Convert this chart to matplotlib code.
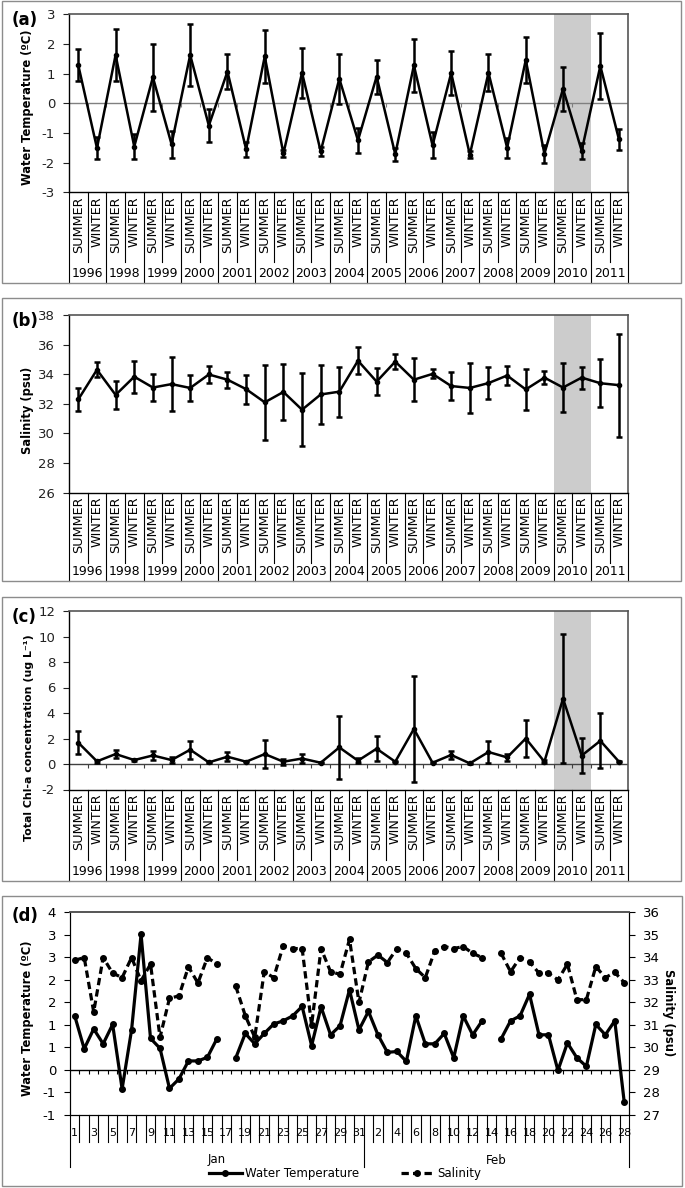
import math
import numpy as np
import matplotlib
matplotlib.use("Agg")
import matplotlib.pyplot as plt
from matplotlib.patches import Rectangle

# ---------------- data ----------------
years = [1996, 1998, 1999, 2000, 2001, 2002, 2003, 2004, 2005, 2006, 2007, 2008, 2009, 2010, 2011]
seasons = ["SUMMER", "WINTER"]
highlight_year = 2010

temp_mean = [1.28, -1.51, 1.63, -1.46, 0.88, -1.38, 1.63, -0.75, 1.07, -1.55,
             1.58, -1.69, 1.03, -1.62, 0.83, -1.25, 0.90, -1.72, 1.28, -1.42,
             1.02, -1.73, 1.03, -1.50, 1.46, -1.70, 0.49, -1.60, 1.26, -1.22]
temp_sd = [0.54, 0.36, 0.87, 0.43, 1.13, 0.46, 1.05, 0.56, 0.60, 0.25,
           0.89, 0.12, 0.85, 0.15, 0.84, 0.43, 0.57, 0.22, 0.90, 0.44,
           0.74, 0.13, 0.62, 0.33, 0.77, 0.30, 0.75, 0.27, 1.12, 0.35]

sal_mean = [32.30, 34.30, 32.60, 33.83, 33.10, 33.33, 33.07, 33.98, 33.63, 32.99,
            32.10, 32.80, 31.60, 32.63, 32.82, 34.91, 33.50, 34.85, 33.63, 34.02,
            33.20, 33.07, 33.40, 33.91, 32.97, 33.77, 33.10, 33.77, 33.39, 33.26]
sal_sd = [0.76, 0.52, 0.93, 1.08, 0.90, 1.85, 0.88, 0.58, 0.54, 0.98,
          2.52, 1.90, 2.45, 1.99, 1.69, 0.91, 0.92, 0.52, 1.44, 0.31,
          0.93, 1.69, 1.08, 0.64, 1.40, 0.45, 1.65, 0.75, 1.63, 3.48]

chl_mean = [1.67, 0.21, 0.78, 0.31, 0.67, 0.31, 1.12, 0.13, 0.57, 0.18,
            0.78, 0.18, 0.43, 0.10, 1.30, 0.26, 1.20, 0.18, 2.75, 0.10,
            0.71, 0.05, 0.94, 0.52, 2.00, 0.18, 5.13, 0.66, 1.82, 0.18]
chl_sd = [0.92, 0.10, 0.34, 0.05, 0.33, 0.20, 0.72, 0.05, 0.36, 0.05,
          1.07, 0.22, 0.33, 0.05, 2.50, 0.20, 1.00, 0.05, 4.15, 0.05,
          0.31, 0.03, 0.84, 0.30, 1.42, 0.10, 5.03, 1.37, 2.15, 0.05]

months = ["Jan", "Feb"]
month_days = [31, 28]
daily_temp = [1.20, 0.47, 0.91, 0.58, 1.01, -0.42, 0.89, 3.01, 0.70, 0.48,
              -0.41, -0.20, 0.20, 0.20, 0.28, 0.69, np.nan, 0.27, 0.81, 0.58,
              0.81, 1.02, 1.09, 1.20, 1.41, 0.54, 1.40, 0.78, 0.98, 1.78, 0.89,
              1.30, 0.78, 0.39, 0.41, 0.19, 1.20, 0.58, 0.58, 0.81, 0.27,
              1.20, 0.78, 1.09, np.nan, 0.69, 1.09, 1.20, 1.68, 0.78, 0.78,
              -0.01, 0.60, 0.27, 0.08, 1.01, 0.78, 1.09, -0.72]
daily_sal = [33.87, 33.99, 31.58, 33.99, 33.30, 33.10, 33.99, 32.96, 33.70, 30.45,
             32.18, 32.29, 33.58, 32.86, 33.99, 33.70, np.nan, 32.71, 31.41, 30.45,
             33.36, 33.10, 34.51, 34.39, 34.39, 31.00, 34.39, 33.36, 33.25, 34.80, 32.00,
             33.80, 34.10, 33.77, 34.39, 34.18, 33.50, 33.10, 34.29, 34.48, 34.39,
             34.48, 34.18, 33.99, np.nan, 34.18, 33.36, 33.99, 33.80, 33.30, 33.30,
             33.00, 33.70, 32.12, 32.12, 33.59, 33.10, 33.33, 32.88]

# ---------------- layout helpers ----------------
W, H = 685, 1188
plt.rcParams['font.family'] = ['DejaVu Sans']
fig = plt.figure(figsize=(W / 100, H / 100), dpi=100)


def fx(px):
    return px / W


def fy(py):
    return 1 - py / H


def add_ax(left, top, right, bottom):
    return fig.add_axes([fx(left), fy(bottom), (right - left) / W, (bottom - top) / H])


def box(left, top, right, bottom):
    fig.add_artist(Rectangle((fx(left), fy(bottom)), (right - left) / W, (bottom - top) / H,
                             transform=fig.transFigure, fill=False, ec='#8c8c8c', lw=1.0))


def excel_round(v):
    return int(math.copysign(math.floor(abs(v) + 0.5), v))


PL, PR = 69, 628.3


def season_panel(top, bottom, box_top, box_bottom, mean, sd, ylim, ystep, ylabel,
                 ylabel_xy, tag, zero=None, ylabel_size=8.3):
    box(2, box_top, 681, box_bottom)
    ax = add_ax(PL, top, PR, bottom)
    n = len(mean)
    x = np.arange(n)
    hpx = bottom - top
    k = years.index(highlight_year)
    ax.axvspan(2 * k - 0.5, 2 * k + 1.5, color='#cccccc', lw=0, zorder=0)
    if zero is not None:
        ax.axhline(0, color=zero, lw=1.0, zorder=1)
        ax.plot(np.arange(n - 1) + 0.5, np.zeros(n - 1), ls='none', marker=3, ms=3,
                mew=0.8, color=zero, zorder=1)
    ax.errorbar(x, mean, yerr=sd, color='black', lw=1.8, marker='o', ms=3,
                capsize=2.3, capthick=1.8, elinewidth=1.8, zorder=3)
    ax.set_xlim(-0.5, n - 0.5)
    ax.set_ylim(*ylim)
    ticks = np.arange(ylim[0], ylim[1] + 0.001, ystep)
    ax.set_yticks(ticks)
    ax.set_yticklabels([f"{int(v)}" for v in ticks])
    ax.tick_params(axis='y', direction='out', length=4, width=0.8, pad=6, labelsize=9.5,
                   colors='#222222')
    ax.set_xticks(x)
    ax.set_xticklabels([seasons[i % 2] for i in range(n)], rotation=90, fontsize=9.2)
    ax.tick_params(axis='x', length=0, pad=3)
    for s in ['top', 'right']:
        ax.spines[s].set_color('#555555')
        ax.spines[s].set_linewidth(1.2)
    for s in ['left', 'bottom']:
        ax.spines[s].set_color('black')
        ax.spines[s].set_linewidth(1.0)
    tr = ax.get_xaxis_transform()
    short = -(70 / hpx)
    long_ = -((box_bottom - bottom) / hpx)
    for b in np.arange(-0.5, n, 1.0):
        is_long = (int(round(b + 0.5)) % 2 == 0)
        ax.plot([b, b], [0, long_ if is_long else short], transform=tr, clip_on=False,
                color='black', lw=0.8)
    for j, yr in enumerate(years):
        ax.text(2 * j + 0.5, -((box_bottom - bottom - 9.5) / hpx), str(yr), transform=tr,
                ha='center', va='center', fontsize=9)
    fig.text(fx(ylabel_xy[0]), fy(ylabel_xy[1]), ylabel, rotation=90, ha='center',
             va='center', fontsize=ylabel_size, fontweight='bold')
    fig.text(fx(12), fy(top + 6), tag, ha='left', va='center', fontsize=12, fontweight='bold')
    return ax


season_panel(14.3, 192.3, 1, 283, temp_mean, temp_sd, (-3, 3), 1,
             "Water Temperature (ºC)", (27, 107), "(a)", zero='#808080')
season_panel(315, 492.6, 298, 581, sal_mean, sal_sd, (26, 38), 2,
             "Salinity (psu)", (27, 410), "(b)")
season_panel(611, 789.5, 597, 881, chl_mean, chl_sd, (-2, 12), 2,
             "Total Chl-a concentration (ug L⁻¹)", (29, 738), "(c)", zero='#404040',
             ylabel_size=7.9)

# ---------------- panel (d) ----------------
box(2, 896, 682, 1186)
DL, DR, DT, DB = 70, 629, 912.3, 1115
axd = add_ax(DL, DT, DR, DB)
n = sum(month_days)
x = np.arange(n)
day_labels = []
for m, nd in zip(months, month_days):
    day_labels += [str(d) for d in range(1, nd + 1)]

axd.set_xlim(-0.5, n - 0.5)
axd.set_ylim(-1, 3.5)
yt = np.arange(-1, 3.501, 0.5)
axd.set_yticks(yt)
axd.set_yticklabels([str(excel_round(v)) for v in yt])
axd.tick_params(axis='y', direction='out', length=4, width=0.8, pad=6, labelsize=9.5)
axd.axhline(0, color='black', lw=1.0, zorder=1)
axd.plot(np.arange(n - 1) + 0.5, np.zeros(n - 1), ls='none', marker=3, ms=3, mew=0.8,
         color='black', zorder=1)
lt, = axd.plot(x, daily_temp, color='black', lw=2.3, marker='o', ms=4, zorder=3)

ax2 = axd.twinx()
ax2.set_ylim(27, 36)
ax2.set_yticks(np.arange(27, 36.01, 1))
ax2.tick_params(axis='y', direction='out', length=4, width=0.8, pad=6, labelsize=9.5)
ls_, = ax2.plot(x, daily_sal, color='black', lw=2.3, ls=(0, (2.3, 1.3)), marker='o', ms=4,
                zorder=3)
for a in (axd, ax2):
    a.spines['top'].set_color('#555555')
    a.spines['top'].set_linewidth(1.2)
axd.set_xticks(x[::2])
axd.set_xticklabels(day_labels[::2], fontsize=8)
axd.tick_params(axis='x', length=0, pad=9)

hpx = DB - DT
tr = axd.get_xaxis_transform()
bounds = np.arange(-0.5, n, 1.0)
month_edges = np.cumsum([0] + month_days) - 0.5
for b in bounds:
    is_long = any(abs(b - e) < 1e-6 for e in month_edges)
    ax2.plot([b, b], [0, -(52 / hpx) if is_long else -(27 / hpx)], transform=tr,
             clip_on=False, color='black', lw=0.8)
for j, m in enumerate(months):
    axd.text((month_edges[j] + month_edges[j + 1]) / 2, -(45 / hpx), m, transform=tr,
             ha='center', va='center', fontsize=8.5)

fig.text(fx(27), fy(1018), "Water Temperature (ºC)", rotation=90, ha='center', va='center',
         fontsize=8.3, fontweight='bold')
fig.text(fx(668), fy(1013), "Salinity (psu)", rotation=270, ha='center', va='center',
         fontsize=8.3, fontweight='bold')
fig.text(fx(12), fy(916), "(d)", ha='left', va='center', fontsize=12, fontweight='bold')

fig.legend([lt, ls_], ["Water Temperature", "Salinity"], loc='center',
           bbox_to_anchor=(fx(345), fy(1174)), ncol=2, frameon=False, fontsize=8.5,
           handlelength=2.8, columnspacing=3.5, handletextpad=0.3)

fig.savefig("out.png", dpi=100)
